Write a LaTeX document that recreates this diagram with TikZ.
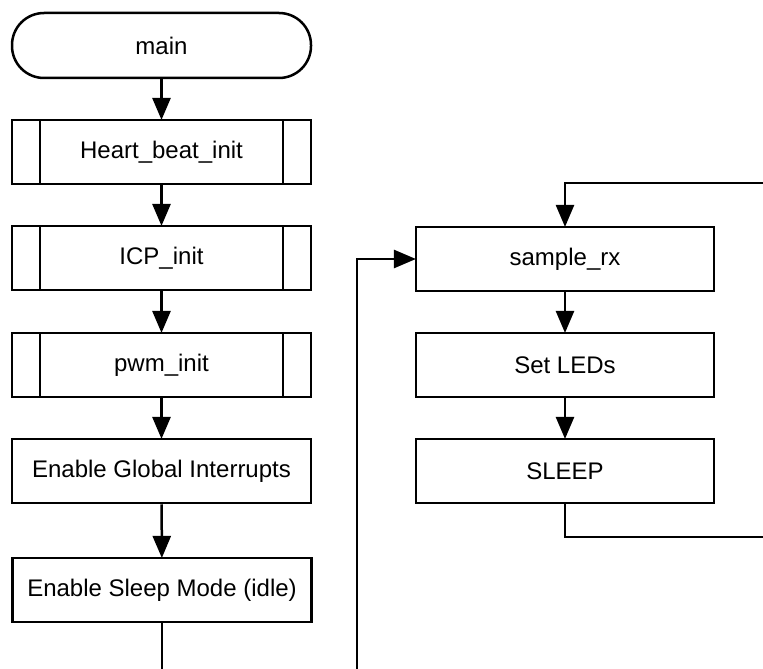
\documentclass[tikz,border=0pt]{standalone}
\usepackage{fontspec}
\setmainfont{Liberation Sans}
\usetikzlibrary{arrows.meta, positioning}

\begin{document}
\begin{tikzpicture}[x=1pt, y=-1pt,
      box/.style={draw, line width=2.5pt, minimum width=299pt,
                  minimum height=64pt, inner sep=0pt,
                  font=\fontsize{24}{28}\selectfont, align=center},
      term/.style={box, rounded corners=32pt, minimum height=65pt},
      subr/.style={box, path picture={
          \draw[line width=2.5pt]
            ([xshift=28pt]path picture bounding box.north west) --
            ([xshift=28pt]path picture bounding box.south west)
            ([xshift=-28pt]path picture bounding box.north east) --
            ([xshift=-28pt]path picture bounding box.south east);}},
      arr/.style={-{Triangle[length=22pt, width=18pt]}, line width=2.5pt,
                  shorten >=-1.2pt},
      wire/.style={line width=2.5pt}
    ]
      \useasboundingbox (0, 0) rectangle (763, 669);

      % init sequence
      \node[term] (main) at (161.5, 45.5) {main};
      \node[subr] (hb) at (161.5, 152) {Heart\_beat\_init};
      \node[subr] (icp) at (161.5, 258) {ICP\_init};
      \node[subr] (pwm) at (161.5, 365) {pwm\_init};
      \node[box] (gie) at (161.5, 471) {Enable Global Interrupts};
      \node[box] (slp) at (162, 590) {Enable Sleep Mode (idle)};

      % main loop
      \node[box, minimum width=298pt] (rx) at (565, 259) {sample\_rx};
      \node[box, minimum width=298pt] (led) at (565, 365) {Set LEDs};
      \node[box, minimum width=298pt] (sleep) at (565, 471) {SLEEP};

      \coordinate (inL) at (162, 675);
      \coordinate (inB) at (357, 675);
      \coordinate (outR) at (770, 537);
      \coordinate (inR) at (770, 183);

      \draw[arr] (main) -- (hb);
      \draw[arr] (hb) -- (icp);
      \draw[arr] (icp) -- (pwm);
      \draw[arr] (pwm) -- (gie);
      \draw[arr] (gie) -- (slp);
      \draw[wire] (slp) -- (inL);

      \draw[arr] (inB) |- (rx.west);
      \draw[arr] (inR) -| (rx.north);
      \draw[arr] (rx) -- (led);
      \draw[arr] (led) -- (sleep);
      \draw[wire] (sleep) |- (outR);
    \end{tikzpicture}
\end{document}
